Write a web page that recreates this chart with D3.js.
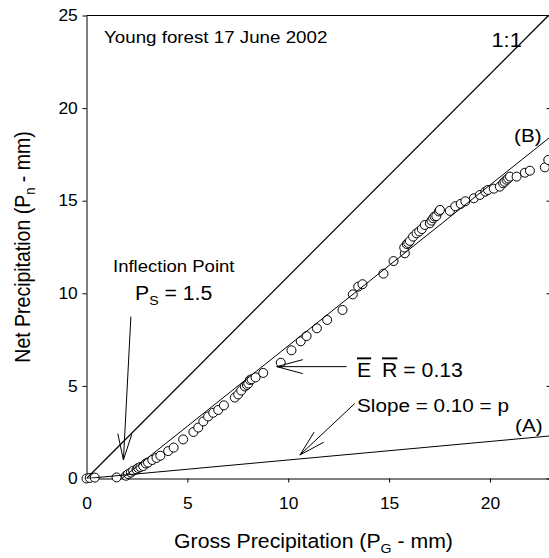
<!DOCTYPE html>
<html>
<head>
<meta charset="utf-8">
<script src="https://cdn.jsdelivr.net/npm/d3@7"></script>
<style>
    body { margin: 0; background: #fff; }
    svg text { font-family: "Liberation Sans", Arial, Helvetica, sans-serif; fill: #000; }
</style>
</head>
<body>
<div id="chart"></div>
<script>
// gross vs net precipitation, young forest, 17 June 2002
var grossPrecip = [0.00, 0.16, 0.41, 1.49, 1.96, 2.06, 2.20, 2.31, 2.48, 2.56, 2.67, 2.81, 2.94, 3.05,
    3.26, 3.47, 3.66, 4.05, 4.32, 4.79, 5.30, 5.54, 5.79, 6.03, 6.28, 6.53, 6.81, 7.35, 7.52, 7.67,
    7.85, 7.95, 8.02, 8.10, 8.18, 8.38, 8.76, 9.63, 10.16, 10.62, 10.91, 11.42, 11.93, 12.69, 13.20,
    13.47, 13.68, 14.72, 15.22, 15.78, 15.75, 15.88, 15.95, 16.03, 16.19, 16.36, 16.49, 16.62, 16.77,
    17.02, 17.10, 17.18, 17.25, 17.34, 17.47, 17.52, 18.01, 18.28, 18.55, 18.78, 19.20, 19.50, 19.77,
    19.90, 20.19, 20.49, 20.65, 20.72, 20.82, 20.90, 20.99, 21.32, 21.73, 21.98, 22.72, 22.89];
var netPrecip = [0.00, 0.03, 0.05, 0.06, 0.15, 0.24, 0.32, 0.42, 0.49, 0.57, 0.62, 0.67, 0.81, 0.86,
    1.00, 1.11, 1.23, 1.48, 1.67, 2.11, 2.51, 2.75, 3.08, 3.35, 3.55, 3.70, 3.95, 4.37, 4.54, 4.75,
    4.97, 5.05, 5.13, 5.32, 5.36, 5.46, 5.70, 6.25, 6.92, 7.41, 7.69, 8.11, 8.56, 9.10, 9.94,
    10.36, 10.49, 11.06, 11.74, 12.16, 12.47, 12.66, 12.72, 12.83, 13.06, 13.24, 13.34, 13.47, 13.69,
    13.78, 13.92, 14.05, 14.15, 14.17, 14.42, 14.50, 14.45, 14.70, 14.83, 14.97, 15.13, 15.31, 15.49,
    15.58, 15.65, 15.76, 15.94, 16.02, 16.13, 16.20, 16.30, 16.30, 16.51, 16.62, 16.80, 17.20];

var xTicks = [0, 5, 10, 15, 20];
var yTicks = [0, 5, 10, 15, 20, 25];

// reference lines (end points in mm)
var lineOneToOne = [[0, 0], [22.9, 25]];
var lineB = [[1.75, 0], [23, 18.45]];
var lineA = [[0, 0], [23, 2.3]];

// annotation arrows: [tail, tip] in mm
var arrowInflection = [[2.2, 8.74], [1.83, 1.0]];
var arrowER = [[12.89, 6.04], [9.43, 6.04]];
var arrowSlope = [[13.3, 4.05], [10.58, 1.27]];

var sx = 1.09; // the original figure is a bit wider than tall

var svg = d3.select("#chart")
    .append("svg")
    .attr("width", 549)
    .attr("height", 558);

var x = d3.scaleLinear().domain([0, 23]).range([86.5, 550.5]);
var y = d3.scaleLinear().domain([0, 25]).range([478.5, 15.5]);

svg.append("clipPath").attr("id", "plot-clip")
    .append("rect")
    .attr("x", x(0)).attr("y", y(25))
    .attr("width", x(23) - x(0)).attr("height", y(0) - y(25));

// axes
svg.append("g")
    .attr("transform", "translate(0," + y(0) + ")")
    .call(d3.axisBottom(x).tickValues(xTicks).tickSize(4).tickSizeOuter(0).tickPadding(15));

svg.append("g")
    .attr("transform", "translate(" + x(0) + ",0)")
    .call(d3.axisLeft(y).tickValues(yTicks).tickSize(4).tickSizeOuter(0).tickPadding(4));

svg.append("g")
    .attr("transform", "translate(" + x(23) + ",0)")
    .call(d3.axisRight(y).tickValues(yTicks).tickSize(-4).tickSizeOuter(0).tickFormat(""));

svg.append("line")
    .attr("x1", x(0)).attr("x2", x(23))
    .attr("y1", y(25)).attr("y2", y(25))
    .attr("stroke", "black");

svg.selectAll(".tick text")
    .attr("font-size", 16)
    .attr("font-family", "Liberation Sans, Arial, sans-serif")
    .attr("transform", "scale(" + sx + ",1)");
svg.selectAll(".domain, .tick line").attr("stroke", "black");

// points
svg.append("g").selectAll("circle")
    .data(d3.zip(grossPrecip, netPrecip))
    .enter().append("circle")
    .attr("cx", function(d) { return x(d[0]); })
    .attr("cy", function(d) { return y(d[1]); })
    .attr("r", 4.5)
    .attr("fill", "white")
    .attr("stroke", "black")
    .attr("stroke-width", 1);

// lines
var line = d3.line()
    .x(function(d) { return x(d[0]); })
    .y(function(d) { return y(d[1]); });

svg.append("g").attr("clip-path", "url(#plot-clip)")
    .selectAll("path")
    .data([lineOneToOne, lineB, lineA])
    .enter().append("path")
    .attr("d", line)
    .attr("fill", "none")
    .attr("stroke", "black")
    .attr("stroke-width", function(d, i) { return i == 0 ? 1.2 : 1; });

// arrows with open heads
function drawArrow(a) {
    var x1 = x(a[0][0]), y1 = y(a[0][1]), x2 = x(a[1][0]), y2 = y(a[1][1]);
    var ang = Math.atan2(y1 - y2, x1 - x2);
    var len = 27, half = 15 * Math.PI / 180;
    var d = "M" + x1 + "," + y1 + "L" + x2 + "," + y2 +
        "M" + (x2 + len * Math.cos(ang + half)) + "," + (y2 + len * Math.sin(ang + half)) +
        "L" + x2 + "," + y2 +
        "L" + (x2 + len * Math.cos(ang - half)) + "," + (y2 + len * Math.sin(ang - half));
    svg.append("path")
        .attr("d", d)
        .attr("fill", "none")
        .attr("stroke", "black")
        .attr("stroke-width", 1);
}
drawArrow(arrowInflection);
drawArrow(arrowER);
drawArrow(arrowSlope);

// text helper, stretched like the original
function label(px, py, size, anchor) {
    return svg.append("text")
        .attr("transform", "translate(" + px + "," + py + ") scale(" + sx + ",1)")
        .attr("font-size", size)
        .attr("text-anchor", anchor || "start");
}

label(104, 43, 17.2).text("Young forest 17 June 2002");
label(491.5, 46.5, 20).text("1:1");
label(514, 141.5, 19).text("(B)");
label(515, 432, 19).text("(A)");
label(113, 271.5, 17).text("Inflection Point");

var ps = label(135, 300, 19.5);
ps.append("tspan").text("P");
ps.append("tspan").attr("font-size", 13).attr("dy", 5).text("S");
ps.append("tspan").attr("dy", -5).text(" = 1.5");

var er = label(357, 376.5, 19.5);
er.append("tspan").style("text-decoration", "overline").text("E");
er.append("tspan").attr("dx", 10).style("text-decoration", "overline").text("R");
er.append("tspan").text(" = 0.13");

label(357, 411.5, 19).text("Slope = 0.10 = p");

// axis titles
var xt = label(313.5, 548, 19.5, "middle");
xt.append("tspan").text("Gross Precipitation (P");
xt.append("tspan").attr("font-size", 13).attr("dy", 5).text("G");
xt.append("tspan").attr("dy", -5).text(" - mm)");

var yt = svg.append("text")
    .attr("transform", "translate(30,247) scale(" + sx + ",1) rotate(-90)")
    .attr("font-size", 19.5)
    .attr("text-anchor", "middle");
yt.append("tspan").text("Net Precipitation (P");
yt.append("tspan").attr("font-size", 13).attr("dy", 5).text("n");
yt.append("tspan").attr("dy", -5).text(" - mm)");
</script>
</body>
</html>
